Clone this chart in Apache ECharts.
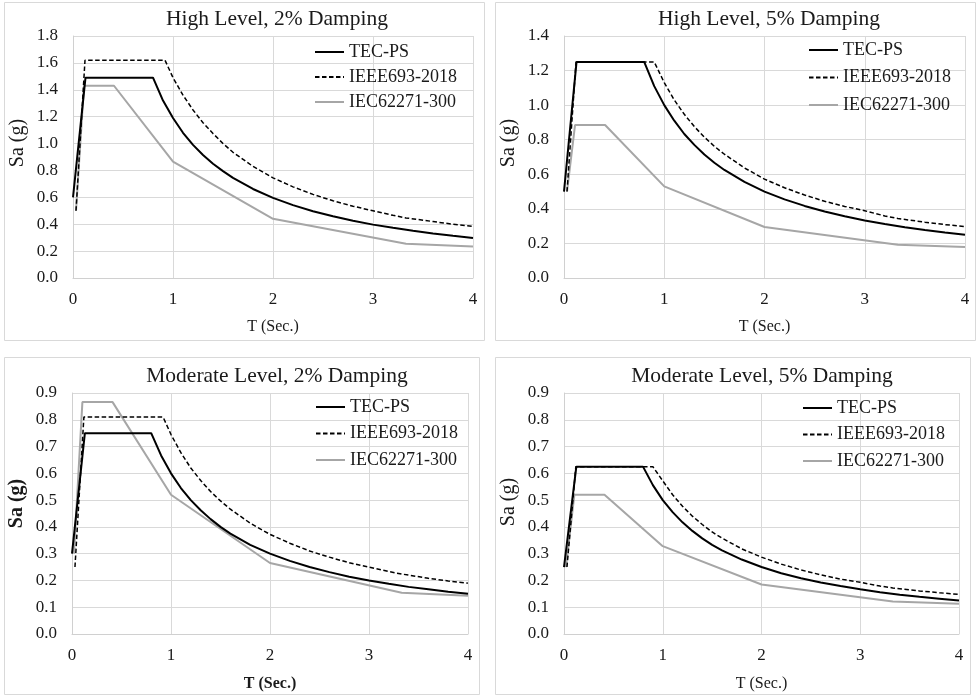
<!DOCTYPE html>
<html>
<head>
<meta charset="utf-8">
<script src="https://cdn.jsdelivr.net/npm/echarts@6/dist/echarts.min.js"></script>
<style>
html,body{margin:0;padding:0;background:#fff;}
#c{width:977px;height:697px;}
</style>
</head>
<body>
<div id="c"></div>
<script>
// ---- data (T in seconds, Sa in g) ----
const seriesNames = ['TEC-PS', 'IEEE693-2018', 'IEC62271-300'];
const panelTitles = ['High Level, 2% Damping', 'High Level, 5% Damping', 'Moderate Level, 2% Damping', 'Moderate Level, 5% Damping'];
const xTicks = [0, 1, 2, 3, 4];
const yMaxes = [1.8, 1.4, 0.9, 0.9];
const yIntervals = [0.2, 0.2, 0.1, 0.1];

// High level, 2% damping
const hl2Tec = [[0,0.6],[0.125,1.49],[0.8,1.49],[0.9,1.32],[1.0,1.19],[1.1,1.08],[1.2,0.99],[1.3,0.915],[1.4,0.85],[1.5,0.795],[1.6,0.745],[1.8,0.662],[2.0,0.596],[2.2,0.542],[2.4,0.497],[2.6,0.459],[2.8,0.426],[3.0,0.397],[3.2,0.373],[3.4,0.351],[3.6,0.331],[3.8,0.314],[4.0,0.298]];
const hl2Ieee = [[0.03,0.5],[0.12,1.62],[0.92,1.62],[1.0,1.49],[1.1,1.36],[1.2,1.25],[1.3,1.155],[1.4,1.075],[1.5,1.0],[1.6,0.935],[1.8,0.83],[2.0,0.745],[2.2,0.678],[2.4,0.622],[2.6,0.574],[2.8,0.534],[3.0,0.5],[3.2,0.466],[3.33,0.447],[3.6,0.42],[3.8,0.4],[4.0,0.384]];
const hl2Iec = [[0.03,0.5],[0.11,1.43],[0.41,1.43],[1.0,0.865],[2.0,0.44],[3.33,0.255],[4.0,0.235]];

// High level, 5% damping
const hl5Tec = [[0,0.5],[0.125,1.25],[0.8,1.25],[0.9,1.11],[1.0,1.0],[1.1,0.91],[1.2,0.833],[1.3,0.77],[1.4,0.714],[1.5,0.667],[1.6,0.625],[1.8,0.556],[2.0,0.5],[2.2,0.455],[2.4,0.417],[2.6,0.385],[2.8,0.357],[3.0,0.333],[3.2,0.313],[3.4,0.294],[3.6,0.278],[3.8,0.263],[4.0,0.25]];
const hl5Ieee = [[0.03,0.5],[0.12,1.25],[0.9,1.25],[1.0,1.13],[1.1,1.03],[1.2,0.947],[1.3,0.876],[1.4,0.815],[1.5,0.762],[1.6,0.716],[1.8,0.637],[2.0,0.572],[2.2,0.522],[2.4,0.48],[2.6,0.444],[2.8,0.414],[3.0,0.389],[3.2,0.359],[3.33,0.344],[3.6,0.323],[3.8,0.309],[4.0,0.297]];
const hl5Iec = [[0.03,0.5],[0.11,0.885],[0.41,0.885],[1.0,0.53],[2.0,0.295],[3.33,0.193],[4.0,0.18]];

// Moderate level, 2% damping
const ml2Tec = [[0,0.3],[0.13,0.75],[0.8,0.75],[0.9,0.667],[1.0,0.6],[1.1,0.545],[1.2,0.5],[1.3,0.462],[1.4,0.429],[1.5,0.4],[1.6,0.375],[1.8,0.333],[2.0,0.3],[2.2,0.273],[2.4,0.25],[2.6,0.231],[2.8,0.214],[3.0,0.2],[3.2,0.1875],[3.4,0.176],[3.6,0.167],[3.8,0.158],[4.0,0.15]];
const ml2Ieee = [[0.03,0.25],[0.12,0.81],[0.92,0.81],[1.0,0.745],[1.1,0.677],[1.2,0.62],[1.3,0.573],[1.4,0.532],[1.5,0.497],[1.6,0.466],[1.8,0.414],[2.0,0.372],[2.2,0.339],[2.4,0.31],[2.6,0.287],[2.8,0.266],[3.0,0.25],[3.2,0.233],[3.33,0.224],[3.6,0.208],[3.8,0.198],[4.0,0.19]];
const ml2Iec = [[0.02,0.3],[0.105,0.866],[0.41,0.866],[1.0,0.52],[2.0,0.265],[3.33,0.154],[4.0,0.143]];

// Moderate level, 5% damping
const ml5Tec = [[0,0.25],[0.125,0.625],[0.8,0.625],[0.9,0.556],[1.0,0.5],[1.1,0.455],[1.2,0.417],[1.3,0.385],[1.4,0.357],[1.5,0.333],[1.6,0.3125],[1.8,0.278],[2.0,0.25],[2.2,0.227],[2.4,0.208],[2.6,0.192],[2.8,0.179],[3.0,0.167],[3.2,0.156],[3.4,0.147],[3.6,0.139],[3.8,0.132],[4.0,0.125]];
const ml5Ieee = [[0.03,0.25],[0.12,0.625],[0.9,0.625],[1.0,0.572],[1.1,0.52],[1.2,0.477],[1.3,0.44],[1.4,0.409],[1.5,0.381],[1.6,0.358],[1.8,0.318],[2.0,0.287],[2.2,0.261],[2.4,0.239],[2.6,0.221],[2.8,0.205],[3.0,0.193],[3.2,0.179],[3.33,0.172],[3.6,0.161],[3.8,0.154],[4.0,0.148]];
const ml5Iec = [[0.02,0.25],[0.105,0.52],[0.41,0.52],[1.0,0.328],[2.0,0.185],[3.33,0.121],[4.0,0.113]];

const panelData = [
  [hl2Tec, hl2Ieee, hl2Iec],
  [hl5Tec, hl5Ieee, hl5Iec],
  [ml2Tec, ml2Ieee, ml2Iec],
  [ml5Tec, ml5Ieee, ml5Iec]
];

// ---- layout ----
const FONT = "'Liberation Serif', 'Times New Roman', serif";
const TXT = '#1a1a1a';
const grids = [
  {left: 73, top: 36, width: 400, height: 242},
  {left: 564, top: 36, width: 401, height: 242},
  {left: 72, top: 393, width: 396, height: 241},
  {left: 564, top: 393, width: 395, height: 241}
];
const boxes = [
  [4, 2, 480, 338],
  [495, 2, 480, 338],
  [4, 357, 475, 337],
  [495, 357, 475, 337]
];
const titlePos = [[272, 3], [764, 3], [272, 360], [757, 360]];
const legendPos = [[314, 43, 7], [808, 41, 9.5], [315, 398, 8.5], [802, 399, 8.5]];
const boldAxis = [false, false, true, false];
const xNameGaps = [41, 41, 42, 42];
const yNameShift = [28, 28, 20, 23];

const lineStyles = [
  {color: '#000000', width: 2, type: 'solid'},
  {color: '#000000', width: 1.5, type: [4.5, 2.5]},
  {color: '#a6a6a6', width: 2, type: 'solid'}
];

const option = {
  backgroundColor: '#ffffff',
  animation: false,
  textStyle: {fontFamily: FONT},
  title: [], legend: [], grid: [], xAxis: [], yAxis: [], series: [],
  graphic: boxes.map(b => ({
    type: 'rect', shape: {x: b[0] + 0.5, y: b[1] + 0.5, width: b[2], height: b[3]},
    style: {fill: 'none', stroke: '#d9d9d9', lineWidth: 1}, silent: true, z: -1
  }))
};

for (let p = 0; p < 4; p++) {
  option.grid.push(Object.assign({containLabel: false}, grids[p]));
  option.title.push({
    text: panelTitles[p], left: titlePos[p][0], top: titlePos[p][1], textAlign: 'center',
    textStyle: {fontFamily: FONT, fontSize: 21.5, fontWeight: 'normal', color: TXT}
  });
  option.legend.push({
    orient: 'vertical', left: legendPos[p][0], top: legendPos[p][1], itemGap: legendPos[p][2],
    itemWidth: 29, itemHeight: 14, padding: 0,
    data: seriesNames.map((n, i) => ({name: n})),
    itemStyle: {opacity: 0, borderWidth: 0},
    textStyle: {fontFamily: FONT, fontSize: 18, color: TXT, lineHeight: 18},
    selectedMode: false
  });
  option.xAxis.push({
    gridIndex: p, type: 'value', min: 0, max: 4, interval: 1,
    name: 'T (Sec.)', nameLocation: 'middle', nameGap: xNameGaps[p],
    nameTextStyle: {fontFamily: FONT, fontSize: 16, color: TXT, fontWeight: boldAxis[p] ? 'bold' : 'normal'},
    axisLine: {show: true, lineStyle: {color: '#d0d0d0', width: 1}},
    axisTick: {show: false},
    axisLabel: {fontFamily: FONT, fontSize: 17, color: TXT, margin: 13,
      formatter: v => xTicks.indexOf(v) >= 0 ? String(v) : ''},
    splitLine: {show: true, lineStyle: {color: '#d9d9d9', width: 1}}
  });
  option.yAxis.push({
    gridIndex: p, type: 'value', min: 0, max: yMaxes[p], interval: yIntervals[p],
    name: 'Sa (g)', nameLocation: 'middle', nameGap: 45, nameRotate: 90,
    nameTextStyle: {fontFamily: FONT, fontSize: 20, color: TXT, fontWeight: boldAxis[p] ? 'bold' : 'normal',
      padding: [0, 0, 0, yNameShift[p]]},
    axisLine: {show: true, lineStyle: {color: '#d0d0d0', width: 1}},
    axisTick: {show: false},
    axisLabel: {fontFamily: FONT, fontSize: 17, color: TXT, margin: 15, formatter: v => v.toFixed(1)},
    splitLine: {show: true, lineStyle: {color: '#d9d9d9', width: 1}}
  });
  for (let s = 0; s < 3; s++) {
    option.series.push({
      name: seriesNames[s], type: 'line', xAxisIndex: p, yAxisIndex: p,
      data: panelData[p][s], symbol: 'none', showSymbol: false, smooth: false,
      lineStyle: lineStyles[s], itemStyle: {color: lineStyles[s].color},
      z: 3 - s
    });
  }
}

const chart = echarts.init(document.getElementById('c'), null, {renderer: 'canvas'});
chart.setOption(option);
</script>
</body>
</html>
